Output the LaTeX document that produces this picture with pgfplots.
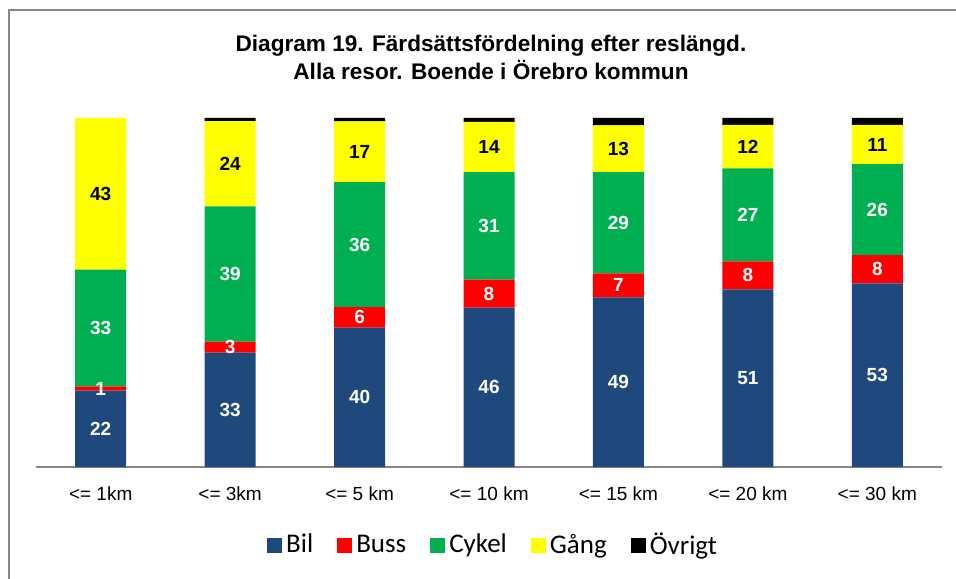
\documentclass[border=0pt]{standalone}
\usepackage{fontspec}
\setmainfont{Liberation Sans}
\newfontfamily\legendfont{Carlito}
\usepackage{pgfplots}
\pgfplotsset{compat=1.18}

\definecolor{bilc}{HTML}{1F497D}
\definecolor{bussc}{HTML}{FF0000}
\definecolor{cykelc}{HTML}{00B050}
\definecolor{gangc}{HTML}{FFFF00}
\definecolor{ovrc}{HTML}{000000}
\definecolor{framec}{HTML}{878787}

\pgfplotsset{
  seglabel/.style={
    nodes near coords={\pgfmathprintnumber[fixed,precision=0,assume math mode=true]{\rawy}},
    every node near coord/.append style={text=#1},
  },
  sq/.style={legend image code/.code={\fill[#1] (-2pt,-3.75pt) rectangle (5.5pt,3.75pt);}},
}

% andel (%) per färdsätt, kategori 0..6 = <=1km ... <=30km
\pgfplotstableread{
x  bil   buss  cykel  gang   ovr
0  21.9  1.2   33.45  43.45  0.0
1  32.8  3.1   38.8   24.4   0.9
2  39.9  5.9   35.8   17.4   1.0
3  45.7  8.0   30.8   14.4   1.1
4  48.6  6.9   29.0   13.4   2.1
5  50.9  8.0   26.7   12.4   2.0
6  52.6  8.1   26.1   11.2   2.0
}\data

\begin{document}
\begin{tikzpicture}
  \clip (0,0) rectangle (478pt,289pt);
  \draw[framec, line width=1pt] (4.25pt,-10pt) -- (4.25pt,284pt) -- (500pt,284pt);

  \node[anchor=base, font=\bfseries\fontsize{11.3}{13}\selectfont] at (245.5pt,263pt)
    {Diagram 19. Färdsättsfördelning efter reslängd.};
  \node[anchor=base, font=\bfseries\fontsize{11.3}{13}\selectfont] at (245.5pt,249pt)
    {Alla resor. Boende i Örebro kommun};

  \begin{axis}[
    at={(18pt,55.5pt)}, anchor=south west,
    scale only axis, width=453pt, height=174.5pt,
    ybar stacked, bar width=25.5pt,
    xmin=-0.5, xmax=6.5, ymin=0, ymax=100,
    clip=false,
    axis x line*=bottom, axis y line=none,
    x axis line style={-, framec, line width=1pt},
    xtick={0,...,6},
    xticklabels={{<= 1km},{<= 3km},{<= 5 km},{<= 10 km},{<= 15 km},{<= 20 km},{<= 30 km}},
    xtick style={draw=none}, ytick=\empty,
    xticklabel style={anchor=base, yshift=-16.5pt, font=\fontsize{9.5}{11}\selectfont},
    visualization depends on={rawy \as \rawy},
    nodes near coords align={center},
    every node near coord/.append style={font=\bfseries\fontsize{9.5}{11}\selectfont},
    legend columns=5,
    legend style={at={(0.5055,-0.2235)}, anchor=center, draw=none,
      font=\legendfont\fontsize{13.5}{15}\selectfont,
      /tikz/every even column/.append style={column sep=10pt}},
  ]
    \addplot[fill=bilc, draw=none, sq=bilc, seglabel=white] table[x=x, y=bil] {\data};
    \addplot[fill=bussc, draw=none, sq=bussc, seglabel=white] table[x=x, y=buss] {\data};
    \addplot[fill=cykelc, draw=none, sq=cykelc, seglabel=white] table[x=x, y=cykel] {\data};
    \addplot[fill=gangc, draw=none, sq=gangc, seglabel=black] table[x=x, y=gang] {\data};
    \addplot[fill=ovrc, draw=none, sq=ovrc] table[x=x, y=ovr] {\data};
    \legend{Bil,Buss,Cykel,Gång,Övrigt}
  \end{axis}
\end{tikzpicture}
\end{document}
